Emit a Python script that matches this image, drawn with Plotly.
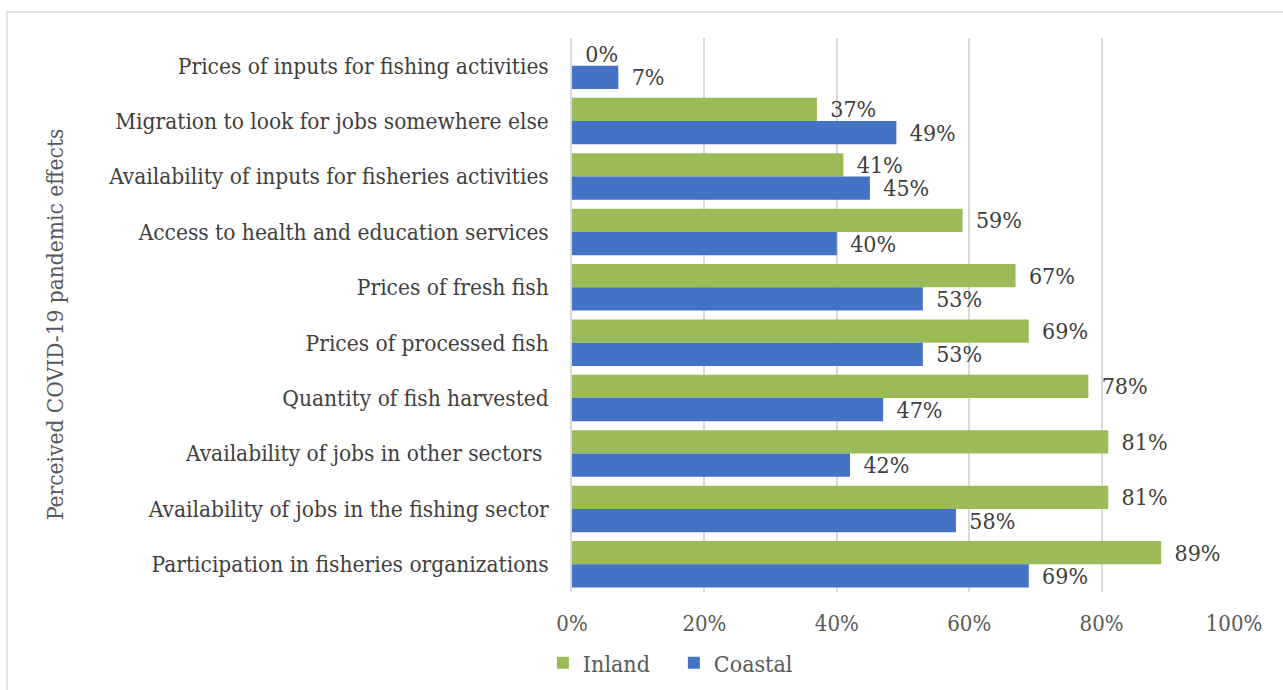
import plotly.graph_objects as go

# Perceived effects, listed top to bottom
effects = [
    "Prices of inputs for fishing activities",
    "Migration to look for jobs somewhere else",
    "Availability of inputs for fisheries activities",
    "Access to health and education services",
    "Prices of fresh fish",
    "Prices of processed fish",
    "Quantity of fish harvested",
    "Availability of jobs in other sectors ",
    "Availability of jobs in the fishing sector",
    "Participation in fisheries organizations",
]
inland = [0, 37, 41, 59, 67, 69, 78, 81, 81, 89]
coastal = [7, 49, 45, 40, 53, 53, 47, 42, 58, 69]
x_ticks = [0, 20, 40, 60, 80, 100]

FONT = "DejaVu Serif Condensed, DejaVu Serif, serif"
GREEN = "#9BBB59"
BLUE = "#4472C4"

W, H = 1283, 690
L, R, T, B = 572, 49, 38, 98
pw, ph = W - L - R, H - T - B

fig = go.Figure()
for name, vals, col in [("Inland", inland, GREEN), ("Coastal", coastal, BLUE)]:
    fig.add_trace(go.Bar(
        name=name, y=effects, x=vals, orientation="h",
        marker=dict(color=col, line=dict(width=0)),
        text=[f"\u2002{v}%" for v in vals], textposition="outside",
        constraintext="none",
        textfont=dict(family=FONT, size=23, color="#404040"),
        cliponaxis=False,
    ))

fig.update_layout(
    width=W, height=H,
    margin=dict(l=L, r=R, t=T, b=B, autoexpand=False),
    barmode="group", bargap=0.16, bargroupgap=0,
    plot_bgcolor="white", paper_bgcolor="white",
    font=dict(family=FONT, size=22, color="#404040"),
    xaxis=dict(
        range=[0, 100], tickvals=x_ticks,
        ticktext=[f"{v}%" for v in x_ticks],
        showgrid=True, gridcolor="#D9D9D9", gridwidth=1.5,
        zeroline=False, showline=False,
        tickfont=dict(family=FONT, size=22, color="#595959"),
        ticklabelstandoff=16,
    ),
    yaxis=dict(
        autorange="reversed", type="category",
        showgrid=False, zeroline=False,
        showline=True, linecolor="#D9D9D9", linewidth=1.5,
        tickfont=dict(family=FONT, size=22.5, color="#404040"),
        ticklabelstandoff=17,
    ),
    legend=dict(
        orientation="h", x=-0.044, xanchor="left", y=-0.128, yanchor="middle",
        font=dict(family=FONT, size=23, color="#595959"),
        itemwidth=30, traceorder="normal",
        entrywidth=86, entrywidthmode="pixels",
    ),
    showlegend=True,
)

# Vertical axis title
fig.add_annotation(
    text="Perceived COVID-19 pandemic effects",
    xref="paper", yref="paper",
    x=(40 - L) / pw, y=((H - B) - 325) / ph,
    textangle=-90, showarrow=False,
    font=dict(family=FONT, size=22.5, color="#595959"),
)

# Chart frame
fig.add_shape(
    type="rect", xref="paper", yref="paper",
    x0=(7 - L) / pw, x1=(W + 10 - L) / pw,
    y0=((H - B) - (H + 10)) / ph, y1=((H - B) - 12) / ph,
    line=dict(color="#D9D9D9", width=1.5), fillcolor="rgba(0,0,0,0)",
    layer="below",
)

fig.write_html("out.html")
